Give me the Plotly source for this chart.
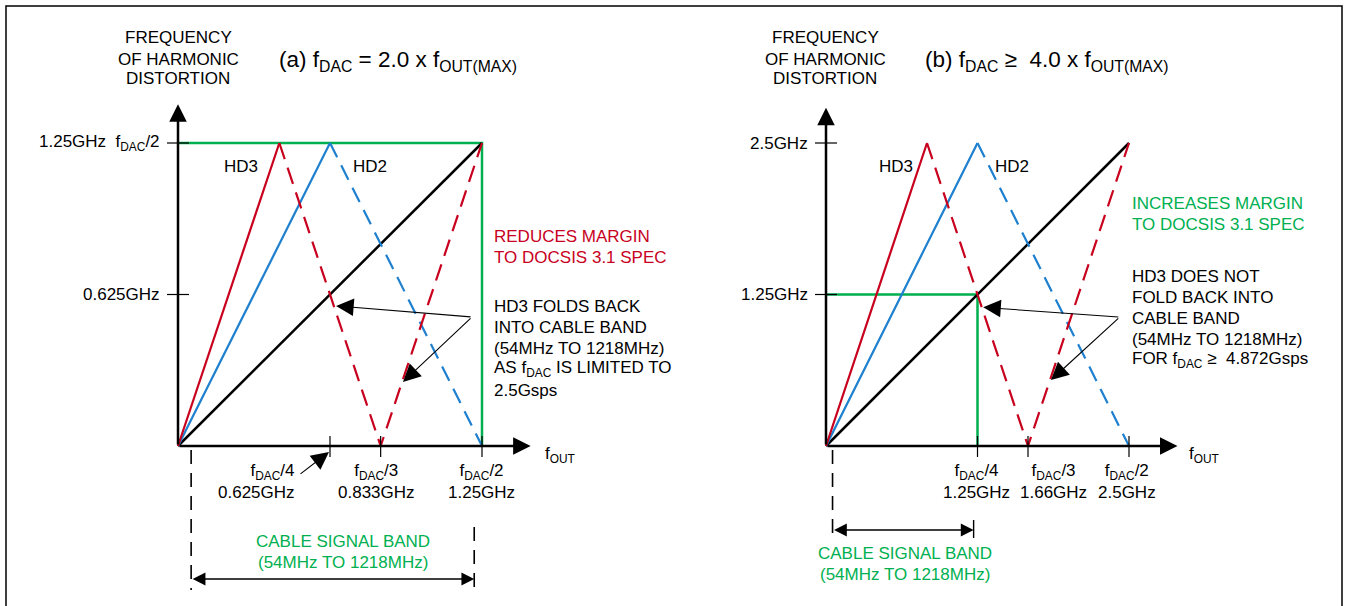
"""
Harmonic distortion folding vs DAC sample rate.

(a) fDAC = 2.0 x fOUT(MAX)  -> HD3 folds back into the cable band
(b) fDAC >= 4.0 x fOUT(MAX) -> HD3 stays out of the cable band
"""

import plotly.graph_objects as go

W, H = 1349, 606

RED = "#C8001E"
BLUE = "#1E80CF"
GREEN = "#00B050"
BLACK = "#000000"
FONT = "Liberation Sans, Arial, sans-serif"

# ---- panel (a): fDAC = 2.5 Gsps, values in GHz ----
a_fund_x = [0, 1.25]
a_fund_y = [0, 1.25]
a_hd2_x = [0, 0.625, 1.25]
a_hd2_y = [0, 1.25, 0]
a_hd3_x = [0, 0.4167, 0.8333, 1.25]
a_hd3_y = [0, 1.25, 0, 1.25]
a_box_x = [0, 1.25, 1.25]
a_box_y = [1.25, 1.25, 0]
a_xticks = [0.625, 0.8333, 1.25]
a_xtick_labels = ["f<sub>DAC</sub>/4<br>0.625GHz",
                  "f<sub>DAC</sub>/3<br>0.833GHz",
                  "f<sub>DAC</sub>/2<br>1.25GHz"]
a_yticks = [0.625, 1.25]
a_ytick_labels = ["0.625GHz", "1.25GHz  f<sub>DAC</sub>/2"]

# ---- panel (b): fDAC = 5 Gsps, values in GHz ----
b_fund_x = [0, 2.5]
b_fund_y = [0, 2.5]
b_hd2_x = [0, 1.25, 2.5]
b_hd2_y = [0, 2.5, 0]
b_hd3_x = [0, 0.8333, 1.6667, 2.5]
b_hd3_y = [0, 2.5, 0, 2.5]
b_box_x = [0, 1.25, 1.25]
b_box_y = [1.25, 1.25, 0]
b_xticks = [1.25, 1.6667, 2.5]
b_xtick_labels = ["f<sub>DAC</sub>/4<br>1.25GHz",
                  "f<sub>DAC</sub>/3<br>1.66GHz",
                  "f<sub>DAC</sub>/2<br>2.5GHz"]
b_yticks = [1.25, 2.5]
b_ytick_labels = ["1.25GHz", "2.5GHz"]

# cable signal band (GHz)
band = [0.054, 1.218]

# pixel placement of each panel: origin and px per GHz
PANELS = {
    "a": dict(ox=178, oy=446, sx=243.2, sy=242.4, xa="x", ya="y"),
    "b": dict(ox=826, oy=446, sx=121.2, sy=121.2, xa="x2", ya="y2"),
}


def P(px, py):
    return dict(x=px / W, y=1 - py / H, xref="paper", yref="paper")


def text(px, py, s, color=BLACK, size=17, xanchor="left"):
    return dict(text=s, showarrow=False, xanchor=xanchor, yanchor="middle",
                font=dict(family=FONT, size=size, color=color), **P(px, py))


fig = go.Figure()
shapes = []
annotations = []


def add_panel(p, fund_x, fund_y, hd2_x, hd2_y, hd3_x, hd3_y, box_x, box_y,
              xticks, xlabels, yticks, ylabels, x_end, y_end):
    xa, ya = p["xa"], p["ya"]
    kw = dict(xaxis=xa, yaxis=ya, mode="lines", hoverinfo="skip", showlegend=False)
    fig.add_trace(go.Scatter(x=box_x, y=box_y, line=dict(color=GREEN, width=2.5), **kw))
    fig.add_trace(go.Scatter(x=fund_x, y=fund_y, line=dict(color=BLACK, width=2.5), **kw))
    fig.add_trace(go.Scatter(x=hd2_x[:2], y=hd2_y[:2], line=dict(color=BLUE, width=2.2), **kw))
    fig.add_trace(go.Scatter(x=hd2_x[1:], y=hd2_y[1:],
                             line=dict(color=BLUE, width=2.2, dash="16px,9px"), **kw))
    fig.add_trace(go.Scatter(x=hd3_x[:2], y=hd3_y[:2], line=dict(color=RED, width=2.2), **kw))
    fig.add_trace(go.Scatter(x=hd3_x[1:], y=hd3_y[1:],
                             line=dict(color=RED, width=2.2, dash="17px,9px"), **kw))

    # axes with arrowheads
    for hx, hy in [(x_end, 0), (0, y_end)]:
        annotations.append(dict(x=hx, y=hy, ax=0, ay=0, xref=xa, yref=ya,
                                axref=xa, ayref=ya, text="", showarrow=True,
                                arrowhead=2, arrowsize=1.4, arrowwidth=2.5,
                                arrowcolor=BLACK))

    for t in xticks:
        shapes.append(dict(type="line", xref=xa, yref=ya, ysizemode="pixel",
                           yanchor=0, x0=t, x1=t, y0=-11, y1=10,
                           line=dict(color=BLACK, width=1.2)))
    for t in yticks:
        shapes.append(dict(type="line", xref=xa, yref=ya, xsizemode="pixel",
                           xanchor=0, x0=-11, x1=11, y0=t, y1=t,
                           line=dict(color=BLACK, width=1.2)))

    for t, lab in zip(yticks, ylabels):
        annotations.append(dict(x=0, y=t, xref=xa, yref=ya, text=lab, showarrow=False,
                                xanchor="right", yanchor="middle", xshift=-16,
                                font=dict(family=FONT, size=17, color=BLACK)))


add_panel(PANELS["a"], a_fund_x, a_fund_y, a_hd2_x, a_hd2_y, a_hd3_x, a_hd3_y,
          a_box_x, a_box_y, a_xticks, a_xtick_labels, a_yticks, a_ytick_labels,
          1.45, 1.41)
add_panel(PANELS["b"], b_fund_x, b_fund_y, b_hd2_x, b_hd2_y, b_hd3_x, b_hd3_y,
          b_box_x, b_box_y, b_xticks, b_xtick_labels, b_yticks, b_ytick_labels,
          2.90, 2.79)

# x tick labels (anchor + pixel nudges)
for (pan, ticks, labels, nudges) in [
        ("a", a_xticks, a_xtick_labels, [("right", -33), ("center", -4), ("center", -1)]),
        ("b", b_xticks, b_xtick_labels, [("center", -1), ("center", 25), ("center", -2)])]:
    p = PANELS[pan]
    for t, lab, (anc, dx) in zip(ticks, labels, nudges):
        annotations.append(dict(x=t, y=0, xref=p["xa"], yref=p["ya"], text=lab,
                                showarrow=False, xanchor=anc, yanchor="top",
                                align="right" if anc == "right" else "center",
                                xshift=dx, yshift=-13,
                                font=dict(family=FONT, size=17, color=BLACK)))

# cable signal band markers
pa, pb = PANELS["a"], PANELS["b"]
dash_line = dict(color=BLACK, width=1.6, dash="14px,9px")
shapes += [
    dict(type="line", xref="x", yref="y", ysizemode="pixel", yanchor=0,
         x0=band[0], x1=band[0], y0=-4, y1=-144, line=dash_line),
    dict(type="line", xref="x", yref="y", ysizemode="pixel", yanchor=0,
         x0=band[1], x1=band[1], y0=-81, y1=-144, line=dash_line),
    dict(type="line", xref="x2", yref="y2", ysizemode="pixel", yanchor=0,
         x0=band[0], x1=band[0], y0=-4, y1=-92, line=dash_line),
    dict(type="line", xref="x2", yref="y2", ysizemode="pixel", yanchor=0,
         x0=band[1], x1=band[1], y0=-74, y1=-92, line=dict(color=BLACK, width=1.4)),
]
for xa, ya, dy in [("x", "y", -133), ("x2", "y2", -84)]:
    annotations.append(dict(x=band[1], y=0, ax=band[0], ay=0, xref=xa, yref=ya,
                            axref=xa, ayref=ya, yshift=dy, text="", showarrow=True,
                            arrowside="end+start", arrowhead=2, startarrowhead=2,
                            arrowsize=1.6, startarrowsize=1.6, arrowwidth=1.6,
                            arrowcolor=BLACK))

# pointer arrows
for xa, ya, tail, heads in [
        ("x", "y", (1.209, 0.532), [(0.65, 0.578), (0.925, 0.264)]),
        ("x2", "y2", (2.424, 1.064), [(1.297, 1.144), (1.856, 0.544)])]:
    for hx, hy in heads:
        annotations.append(dict(x=hx, y=hy, ax=tail[0], ay=tail[1], xref=xa, yref=ya,
                                axref=xa, ayref=ya, text="", showarrow=True,
                                arrowhead=2, arrowsize=3.2, arrowwidth=1.1,
                                arrowcolor=BLACK))
# fDAC/4 pointer in panel (a)
annotations.append(dict(x=(329 - pa["ox"]) / pa["sx"], y=(pa["oy"] - 452) / pa["sy"],
                        ax=(299 - pa["ox"]) / pa["sx"], ay=(pa["oy"] - 475) / pa["sy"],
                        xref="x", yref="y", axref="x", ayref="y", text="",
                        showarrow=True, arrowhead=2, arrowsize=3.2, arrowwidth=1.1,
                        arrowcolor=BLACK))

# free text
for cx in (178, 825):
    for py, s in [(38, "FREQUENCY"), (59, "OF HARMONIC"), (79, "DISTORTION")]:
        annotations.append(text(cx, py, s, xanchor="center"))

annotations += [
    text(277, 61, "(a) f<sub>DAC</sub> = 2.0 x f<sub>OUT(MAX)</sub>", size=22.5),
    text(923, 61, "(b) f<sub>DAC</sub> ≥  4.0 x f<sub>OUT(MAX)</sub>", size=22.5),
    text(241, 167, "HD3", xanchor="center"),
    text(370, 167, "HD2", xanchor="center"),
    text(896, 167, "HD3", xanchor="center"),
    text(1012, 167, "HD2", xanchor="center"),
    text(543, 455, "f<sub>OUT</sub>"),
    text(1187, 455, "f<sub>OUT</sub>"),
    text(343, 541, "CABLE SIGNAL BAND", GREEN, xanchor="center"),
    text(343, 562, "(54MHz TO 1218MHz)", GREEN, xanchor="center"),
    text(905, 553, "CABLE SIGNAL BAND", GREEN, xanchor="center"),
    text(905, 574, "(54MHz TO 1218MHz)", GREEN, xanchor="center"),
    text(492, 236, "REDUCES MARGIN", RED),
    text(492, 257, "TO DOCSIS 3.1 SPEC", RED),
    text(1130, 203, "INCREASES MARGIN", GREEN),
    text(1130, 224, "TO DOCSIS 3.1 SPEC", GREEN),
]
for i, s in enumerate(["HD3 FOLDS BACK", "INTO CABLE BAND", "(54MHz TO 1218MHz)",
                       "AS f<sub>DAC</sub> IS LIMITED TO", "2.5Gsps"]):
    annotations.append(text(492, 306 + 21 * i, s))
for i, s in enumerate(["HD3 DOES NOT", "FOLD BACK INTO", "CABLE BAND",
                       "(54MHz TO 1218MHz)", "FOR f<sub>DAC</sub> ≥  4.872Gsps"]):
    annotations.append(text(1130, 276 + 21 * i, s))

# outer frame
shapes.append(dict(type="rect", xref="paper", yref="paper",
                   x0=6 / W, x1=1342 / W, y0=-0.1, y1=1 - 6 / H,
                   line=dict(color=BLACK, width=1.5)))


def axis_range(origin, scale, size, flip=False):
    if flip:
        return [-(size - origin) / scale, origin / scale]
    return [-origin / scale, (size - origin) / scale]


hidden = dict(visible=False, fixedrange=True)
fig.update_layout(
    width=W, height=H,
    margin=dict(l=0, r=0, t=0, b=0),
    paper_bgcolor="white", plot_bgcolor="white",
    showlegend=False,
    xaxis=dict(range=axis_range(pa["ox"], pa["sx"], W), domain=[0, 1], **hidden),
    yaxis=dict(range=axis_range(pa["oy"], pa["sy"], H, flip=True), domain=[0, 1], **hidden),
    xaxis2=dict(range=axis_range(pb["ox"], pb["sx"], W), overlaying="x", **hidden),
    yaxis2=dict(range=axis_range(pb["oy"], pb["sy"], H, flip=True), overlaying="y", **hidden),
    shapes=shapes,
    annotations=annotations,
)

fig.write_html("out.html", config={"displayModeBar": False},
               post_script="document.body.style.margin='0';")
